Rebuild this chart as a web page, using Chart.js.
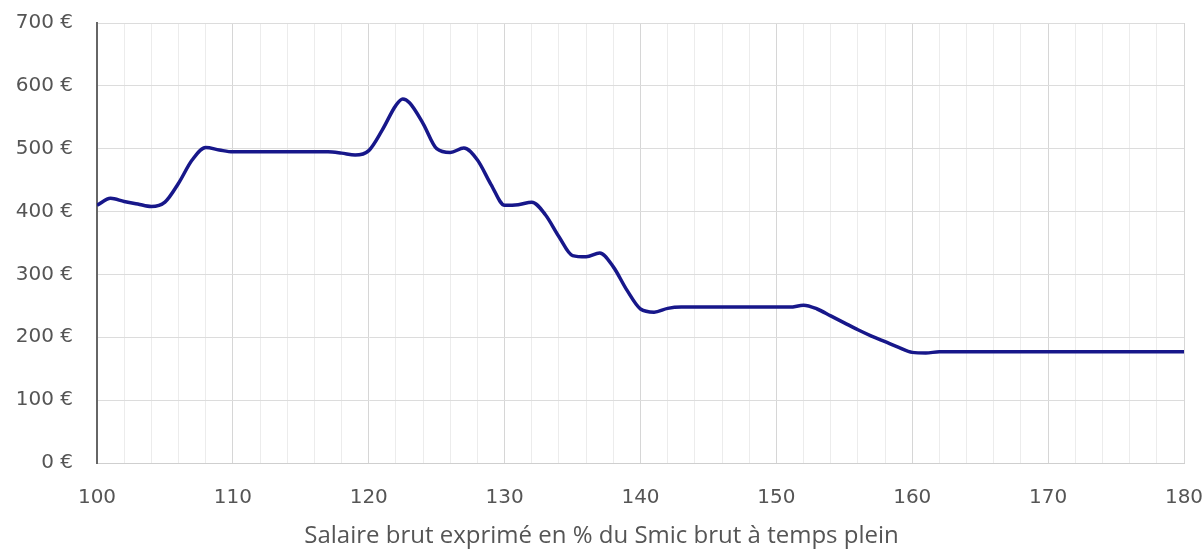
<!DOCTYPE html>
<html><head><meta charset="utf-8">
<script src="https://cdn.jsdelivr.net/npm/chart.js@4/dist/chart.umd.min.js"></script>
<style>html,body{margin:0;padding:0;background:#fff}#wrap{width:1203px;height:554px}</style>
</head><body><div id="wrap"><canvas id="c" width="1203" height="554"></canvas></div>
<script>
const salaryPct = [100,101,102,103,104,105,106,107,108,109,110,111,112,113,114,115,116,117,118,119,120,121,122,122.5,123,124,125,126,127,128,129,130,131,132,133,134,135,136,137,138,139,140,141,142,143,144,145,146,147,148,149,150,151,152,153,154,155,156,157,158,159,160,161,162,163,164,165,166,167,168,169,170,171,172,173,174,175,176,177,178,179,180];
const gainEuros = [410,421,416,412,408,415,445,482,502,498,495,495,495,495,495,495,495,495,493,490,497,530,569,579,573,540,500,494,501,482,443,410,411,415,395,360,330,328,334,312,275,245,240,246,248,248,248,248,248,248,248,248,248,251,245,234,223,212,202,193,184,176,175,177,177,177,177,177,177,177,177,177,177,177,177,177,177,177,177,177,177,177];
const yTicks = [0,100,200,300,400,500,600,700];
const xLabelTicks = [100,110,120,130,140,150,160,170,180];
const axisTitle = 'Salaire brut exprimé en % du Smic brut à temps plein';

const points = salaryPct.map((x,i)=>({x:x,y:gainEuros[i]}));
const tickFont = "'DejaVu Sans', sans-serif";
const titleFont = "'Open Sans', sans-serif";
new Chart(document.getElementById('c'), {
  type:'line',
  data:{datasets:[{data:points,borderColor:'#17178a',borderWidth:3.5,pointRadius:0,cubicInterpolationMode:'monotone',fill:false}]},
  options:{
    responsive:false,animation:false,
    layout:{padding:{left:0,right:0,top:23,bottom:0}},
    plugins:{legend:{display:false},tooltip:{enabled:false},
      title:{display:true,position:'bottom',text:axisTitle,color:'#555',font:{family:titleFont,size:24,weight:'normal'},padding:{top:7,bottom:3}}
    },
    scales:{
      x:{type:'linear',min:100,max:180,
        afterBuildTicks:(s)=>{const t=[];for(let v=100;v<=180;v+=2)t.push({value:v});s.ticks=t;},
        ticks:{autoSkip:false,maxRotation:0,color:'#555',font:{family:tickFont,size:20},padding:23,
          callback:(v)=>xLabelTicks.includes(v)?String(v):''},
        grid:{color:(c)=>(c.tick&&c.tick.value%10===0)?'#d6d6d6':'#ececec',drawTicks:false},
        border:{color:'#cfcfcf',width:1},
        afterFit:(s)=>{s.height=52.2;s.paddingLeft=0;s.paddingRight=19;}
      },
      y:{min:0,max:700,
        afterBuildTicks:(s)=>{s.ticks=yTicks.map(v=>({value:v}));},
        ticks:{color:'#555',font:{family:tickFont,size:20},padding:24,callback:(v)=>v+' €'},
        grid:{color:'#dcdcdc',drawTicks:false},
        border:{color:'#666',width:2},
        afterFit:(s)=>{s.width=97;s.paddingTop=0;s.paddingBottom=0;}
      }
    }
  }
});
</script></body></html>
